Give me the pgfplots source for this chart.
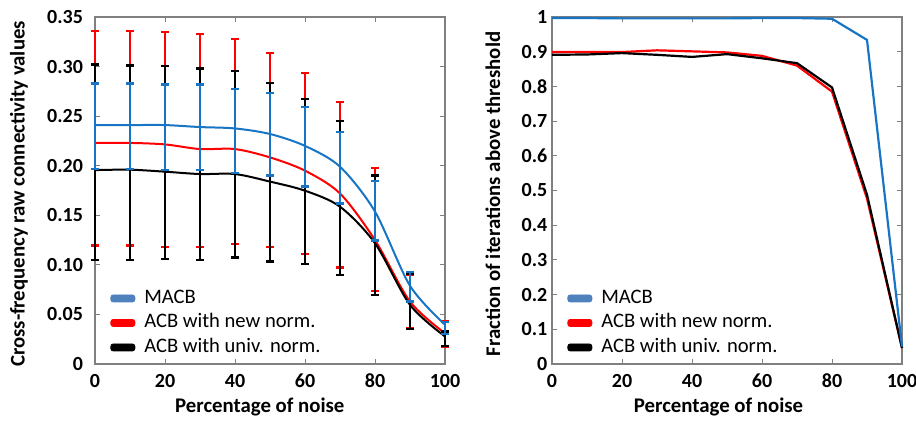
\documentclass[border=0pt]{standalone}
\usepackage{fontspec}
\setmainfont{Carlito}
\usepackage{pgfplots}
\pgfplotsset{compat=1.18}

\definecolor{macb}{RGB}{24,117,196}
\definecolor{macbleg}{RGB}{79,129,189}
\definecolor{newn}{RGB}{255,0,0}
\definecolor{boxgray}{RGB}{128,128,128}

% mean, error above, error below
\pgfplotstableread{
x   y       ep      em
0   0.241   0.042   0.044
10  0.241   0.042   0.044
20  0.241   0.041   0.045
30  0.239   0.043   0.043
40  0.2376  0.040   0.045
50  0.232   0.041   0.042
60  0.220   0.039   0.041
70  0.199   0.035   0.037
80  0.1537  0.031   0.029
90  0.0789  0.014   0.016
100 0.0396  0.003   0.009
}\macbtab

\pgfplotstableread{
x   y       ep      em
0   0.223   0.113   0.1035
10  0.223   0.113   0.1035
20  0.2215  0.1135  0.1035
30  0.2168  0.116   0.099
40  0.2168  0.111   0.096
50  0.2084  0.1056  0.0904
60  0.195   0.0986  0.0843
70  0.172   0.0924  0.0747
80  0.125   0.073   0.0512
90  0.063   0.027   0.0268
100 0.031   0.012   0.0132
}\newtab

\pgfplotstableread{
x   y       ep      em
0   0.1956  0.1064  0.0906
10  0.196   0.105   0.091
20  0.194   0.1067  0.088
30  0.1916  0.1064  0.0866
40  0.1916  0.104   0.0842
50  0.184   0.0996  0.0806
60  0.1748  0.0922  0.0741
70  0.1587  0.0863  0.0687
80  0.1218  0.0682  0.052
90  0.0597  0.0309  0.0241
100 0.0278  0.005   0.0098
}\univtab

\pgfplotsset{
  panel/.style={
    scale only axis, height=173.5pt,
    xmin=0, xmax=100, clip=false,
    axis line style={boxgray, line width=0.6pt},
    tick style={boxgray, line width=0.5pt}, major tick length=2.5pt,
    tick align=inside,
    xtick={0,20,40,60,80,100},
    xticklabels={0,20,40,60,80,100},
    ticklabel style={font=\fontsize{10}{12}\selectfont\bfseries},
    xticklabel style={yshift=-1.5pt},
    label style={font=\fontsize{10.4}{12}\selectfont\bfseries},
    xlabel={Percentage of noise},
    legend style={draw=none, fill=none, inner sep=0pt, anchor=north west,
      font=\fontsize{10.3}{12}\selectfont,
      nodes={inner sep=0pt, text height=7pt, text depth=2pt},
      row sep=3.25pt,
      /tikz/every odd column/.append style={column sep=4.5pt}},
    legend cell align=left,
  },
  patch/.style={legend image code/.code={
    \fill[#1, rounded corners=1.2pt] (0pt,-1.75pt) rectangle (12pt,1.75pt);}},
  eb/.style={line width=1pt, #1, smooth,
    error bars/y dir=both, error bars/y explicit,
    error bars/error bar style={line width=1.15pt, #1},
    error bars/error mark options={rotate=90, mark size=2pt, line width=1.15pt, #1}},
}

\begin{document}
\begin{tikzpicture}
\path[use as bounding box] (0,0) rectangle (458pt,210pt);

\begin{axis}[panel,
  at={(47.5pt,28pt)}, anchor=south west, width=175pt,
  ymin=0, ymax=0.35,
  ytick={0,0.05,0.10,0.15,0.20,0.25,0.30,0.35},
  yticklabels={0,0.05,0.10,0.15,0.20,0.25,0.30,0.35},
  yticklabel style={xshift=-2.5pt},
  ylabel={Cross-frequency raw connectivity values},
  ylabel style={at={(axis description cs:-0.217,0.49)}, anchor=center},
  xlabel style={at={(rel axis cs:0.471,0)}, anchor=center, yshift=-21.5pt},
  legend style={at={(rel axis cs:0.043,0.216)}},
]
\addlegendimage{patch=macbleg}\addlegendentry{MACB}
\addlegendimage{patch=newn}\addlegendentry{ACB with new norm.}
\addlegendimage{patch=black}\addlegendentry{ACB with univ. norm.}
\addplot[eb=newn, forget plot] table[x=x, y=y, y error plus=ep, y error minus=em] {\newtab};
\addplot[eb=black, forget plot] table[x=x, y=y, y error plus=ep, y error minus=em] {\univtab};
\addplot[eb=macb, forget plot] table[x=x, y=y, y error plus=ep, y error minus=em] {\macbtab};
\end{axis}

\begin{axis}[panel,
  at={(276pt,28pt)}, anchor=south west, width=175pt,
  ymin=0, ymax=1,
  ytick={0,0.1,0.2,0.3,0.4,0.5,0.6,0.7,0.8,0.9,1},
  yticklabels={0,0.1,0.2,0.3,0.4,0.5,0.6,0.7,0.8,0.9,1},
  yticklabel style={xshift=1.2pt},
  ylabel={Fraction of iterations above threshold},
  ylabel style={at={(axis description cs:-0.169,0.49)}, anchor=center},
  xlabel style={at={(rel axis cs:0.476,0)}, anchor=center, yshift=-21.5pt},
  legend style={at={(rel axis cs:0.043,0.216)}},
]
\addlegendimage{patch=macbleg}\addlegendentry{MACB}
\addlegendimage{patch=newn}\addlegendentry{ACB with new norm.}
\addlegendimage{patch=black}\addlegendentry{ACB with univ. norm.}
\addplot[newn, line width=1.1pt, forget plot] coordinates {
  (0,0.899) (10,0.899) (20,0.899) (30,0.904) (40,0.901) (50,0.898)
  (60,0.888) (70,0.860) (80,0.785) (90,0.477) (100,0.046)};
\addplot[black, line width=1.1pt, forget plot] coordinates {
  (0,0.891) (10,0.892) (20,0.896) (30,0.891) (40,0.885) (50,0.893)
  (60,0.881) (70,0.867) (80,0.797) (90,0.488) (100,0.046)};
\addplot[macb, line width=1.1pt, forget plot] coordinates {
  (0,0.997) (10,0.997) (20,0.996) (30,0.996) (40,0.996) (50,0.996)
  (60,0.997) (70,0.997) (80,0.995) (90,0.934) (100,0.05)};
\end{axis}
\end{tikzpicture}
\end{document}
